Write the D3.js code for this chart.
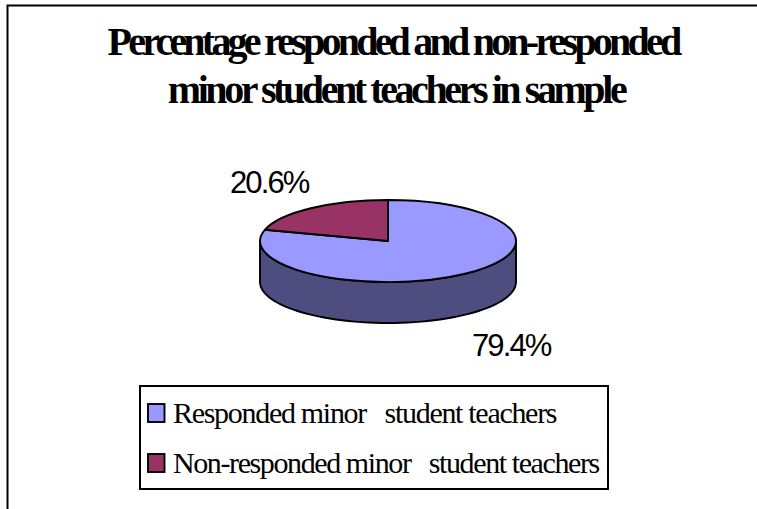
<!DOCTYPE html>
<html><head><meta charset="utf-8">
<script src="https://cdn.jsdelivr.net/npm/d3@7"></script>
<style>html,body{margin:0;padding:0;background:#fff}svg{display:block}text{white-space:pre;fill:#000}</style>
</head><body><svg id="c" width="757" height="509"></svg>
<script>
const titleLines = ["Percentage responded and non-responded", "minor student teachers in sample"];
const categories = ["Responded minor   student teachers", "Non-responded minor   student teachers"];
const values = [79.4, 20.6];
const valueLabels = ["79.4%", "20.6%"];
const colors = ["#9999FF", "#993366"];
const sideColor = "#4D4D80";

const svg = d3.select("#c");
svg.append("path").attr("d", d3.line()([[757,5.5],[7.5,5.5],[7.5,509]])).attr("fill","none").attr("stroke","#000").attr("stroke-width",2);

const serif = "'Liberation Serif','Times New Roman',serif";
const sans = "'Liberation Sans',Arial,sans-serif";

svg.selectAll("text.t").data(titleLines).join("text").attr("class","t")
  .attr("x", (d,i)=>[393,396][i]).attr("y",(d,i)=>[55,103][i]).attr("text-anchor","middle")
  .attr("font-family",serif).attr("font-weight","bold").attr("font-size",40)
  .attr("letter-spacing",(d,i)=>[-3.78,-3.42][i]).text(d=>d);

const cx = 388, cy = 241, rx = 128, ry = 41, depth = 41;
const pieData = d3.pie().sort(null).value(d=>d)(values);
const sx = d3.scaleLinear().domain([-1,1]).range([cx-rx,cx+rx]);
const sy = d3.scaleLinear().domain([-1,1]).range([cy-ry,cy+ry]);

// side wall: lower half of the ellipse extruded by depth
const front = d3.range(0,181,3).map(a=>{const r=a*Math.PI/180;return [sx(Math.cos(r)),sy(Math.sin(r))];});
const wall = front.map(p=>[p[0],p[1]+depth]).concat(front.slice().reverse());
svg.append("path").attr("d",d3.line()(wall)+"Z").attr("fill",sideColor).attr("stroke","#000").attr("stroke-width",1.9).attr("stroke-linejoin","round");

// top face
const arc = d3.arc().innerRadius(0).outerRadius(1);
const topFace = svg.append("g").attr("transform",`translate(${cx},${cy}) scale(${rx},${ry})`);
topFace.selectAll("path").data(pieData).join("path").attr("d",arc).attr("fill",(d,i)=>colors[i])
  .attr("stroke","#000").attr("stroke-width",1.9).attr("vector-effect","non-scaling-stroke").attr("stroke-linejoin","round");

svg.selectAll("text.v").data(valueLabels).join("text").attr("class","v")
  .attr("x",(d,i)=>[472,230][i]).attr("y",(d,i)=>[356,193][i])
  .attr("font-family",sans).attr("font-size",31).attr("letter-spacing",-1.9).text(d=>d);

// legend
svg.append("rect").attr("x",140).attr("y",386).attr("width",468).attr("height",103).attr("fill","#fff").attr("stroke","#000").attr("stroke-width",2);
const yL = d3.scalePoint().domain(categories).range([413,463]);
svg.selectAll("rect.s").data(categories).join("rect").attr("class","s")
  .attr("x",148).attr("y",d=>yL(d)-9).attr("width",16.5).attr("height",18)
  .attr("fill",(d,i)=>colors[i]).attr("stroke","#000").attr("stroke-width",1.9);
svg.selectAll("text.l").data(categories).join("text").attr("class","l")
  .attr("x",173).attr("y",d=>yL(d)+10).attr("font-family",serif).attr("font-size",30)
  .attr("letter-spacing",(d,i)=>[-1.3,-1.4][i]).text(d=>d);
</script></body></html>
